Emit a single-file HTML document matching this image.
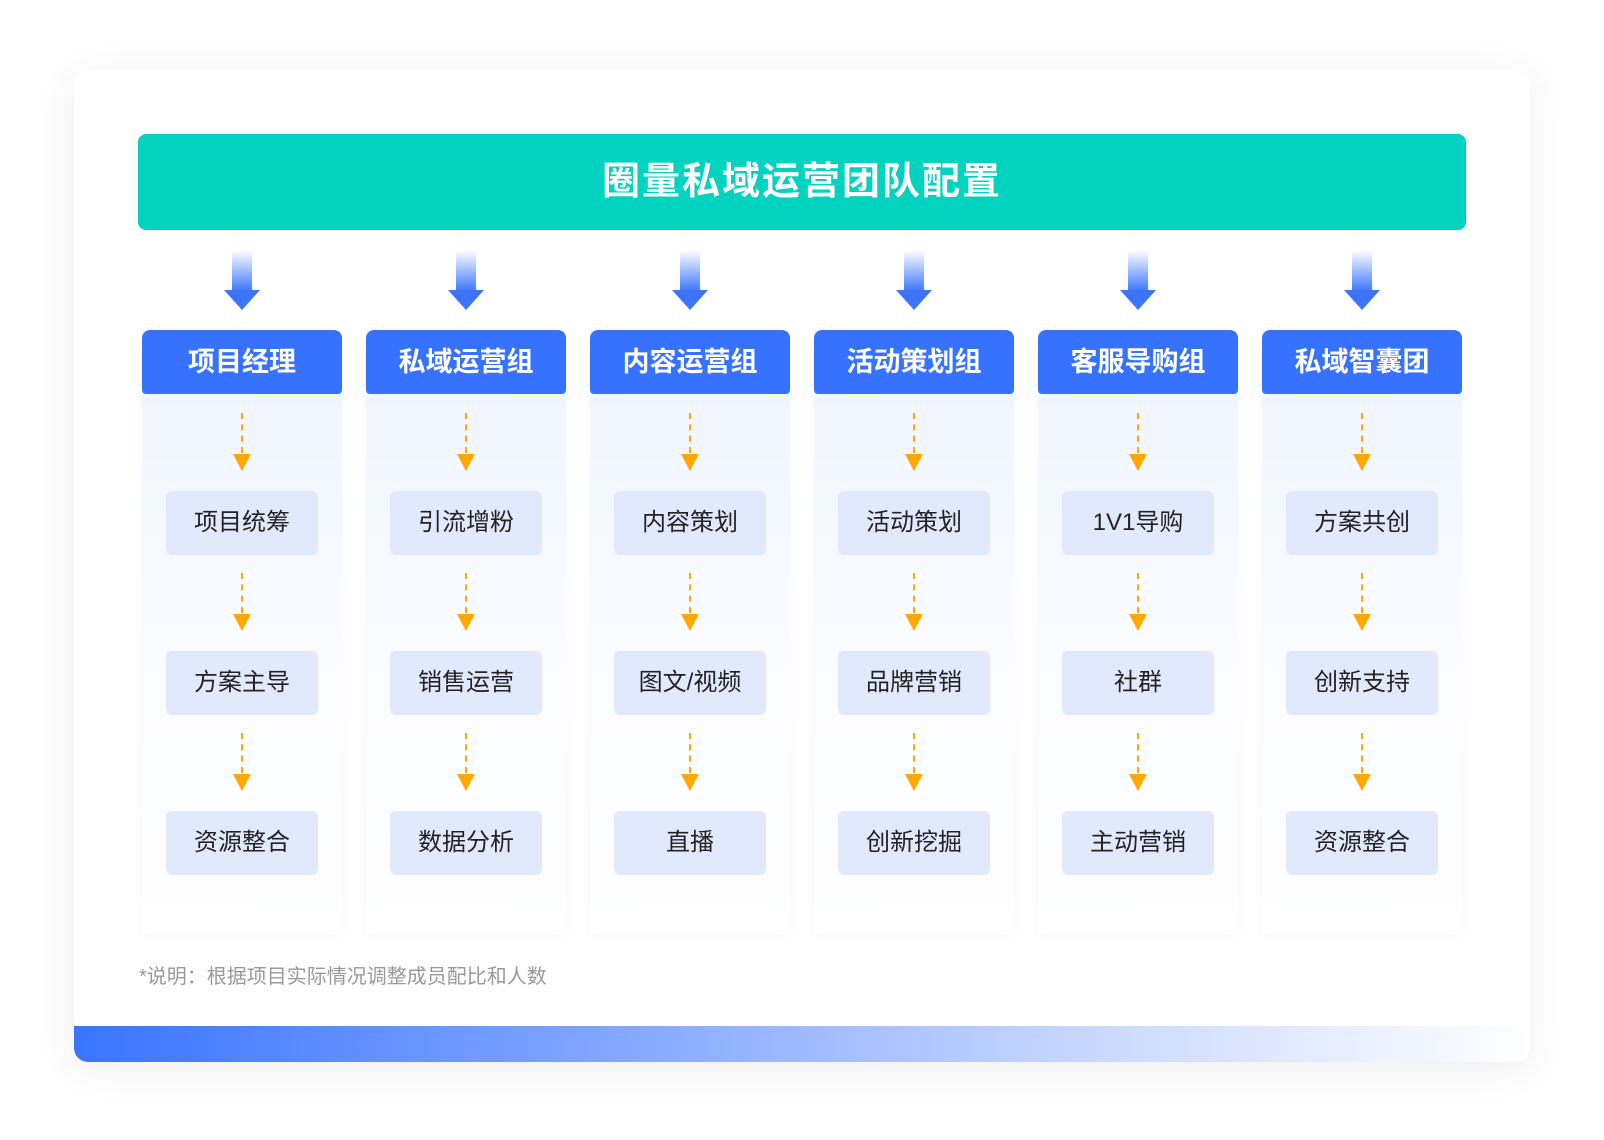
<!DOCTYPE html>
<html><head><meta charset="utf-8"><style>
body{margin:0;width:1604px;height:1140px;background:#fff;position:relative;overflow:hidden;font-family:"Liberation Sans","Noto Sans CJK SC",sans-serif}
.card{position:absolute;left:74px;top:70px;width:1456px;height:992px;background:#fff;border-radius:14px;box-shadow:0 6px 40px rgba(0,0,0,0.07);overflow:hidden}
.bar{position:absolute;left:0;bottom:0;width:100%;height:36px;background:linear-gradient(90deg,#3a74ff,#7fa4ff 35%,#c9d8fd 70%,#fff)}
.title{position:absolute;left:138px;top:134px;width:1328px;height:96px;background:#02d3bf;border-radius:8px;color:#fff;font-size:38px;font-weight:bold;text-align:center;line-height:96px;letter-spacing:2px}
.col{position:absolute;top:330px;width:200px;height:605px;border-radius:8px;background:linear-gradient(#eef4ff,#fbfcff 60%,#fff);box-shadow:0 2px 10px rgba(0,0,0,0.03)}
.hd{height:64px;background:#3772ff;border-radius:8px 8px 4px 4px;color:#fff;font-size:27px;font-weight:bold;text-align:center;line-height:64px}
.it{position:absolute;left:24px;width:152px;height:64px;background:#e1eafd;border-radius:6px;color:#222;font-size:24px;text-align:center;line-height:64px}
.da{position:absolute;left:99px;width:0;height:40px;border-left:2px dashed #ffa800}
.tri{position:absolute;left:91px;width:0;height:0;border-left:9px solid transparent;border-right:9px solid transparent;border-top:17px solid #ffa800}
.big{position:absolute;top:250px;width:60px;height:62px}
.note{position:absolute;left:139px;top:960px;font-size:20px;color:#999}
</style></head><body>
<div class="card"><div class="bar"></div></div>
<div class="title">圈量私域运营团队配置</div>
<svg width="0" height="0" style="position:absolute"><defs><linearGradient id="g" x1="0" y1="0" x2="0" y2="1"><stop offset="0" stop-color="#fff"/><stop offset="1" stop-color="#3a74ff"/></linearGradient></defs></svg>
<div id="cols"></div>
<div class="note">*说明：根据项目实际情况调整成员配比和人数</div>
<script>
var d=[["项目经理","项目统筹","方案主导","资源整合"],["私域运营组","引流增粉","销售运营","数据分析"],["内容运营组","内容策划","图文/视频","直播"],["活动策划组","活动策划","品牌营销","创新挖掘"],["客服导购组","1V1导购","社群","主动营销"],["私域智囊团","方案共创","创新支持","资源整合"]];
var h="";
d.forEach(function(c,i){var x=142+i*224;
h+='<svg class="big" style="left:'+(x+70)+'px" viewBox="0 0 60 62"><rect x="20" y="0" width="20" height="42" fill="url(#g)"/><polygon points="12,40 48,40 30,60" fill="#3a74ff"/></svg>';
h+='<div class="col" style="left:'+x+'px"><div class="hd">'+c[0]+'</div>';
[0,1,2].forEach(function(k){var y=k*160;
h+='<div class="da" style="top:'+(83+y)+'px"></div><div class="tri" style="top:'+(124+y)+'px"></div><div class="it" style="top:'+(161+y)+'px">'+c[k+1]+'</div>';});
h+='</div>';});
document.getElementById("cols").innerHTML=h;
</script>
</body></html>
